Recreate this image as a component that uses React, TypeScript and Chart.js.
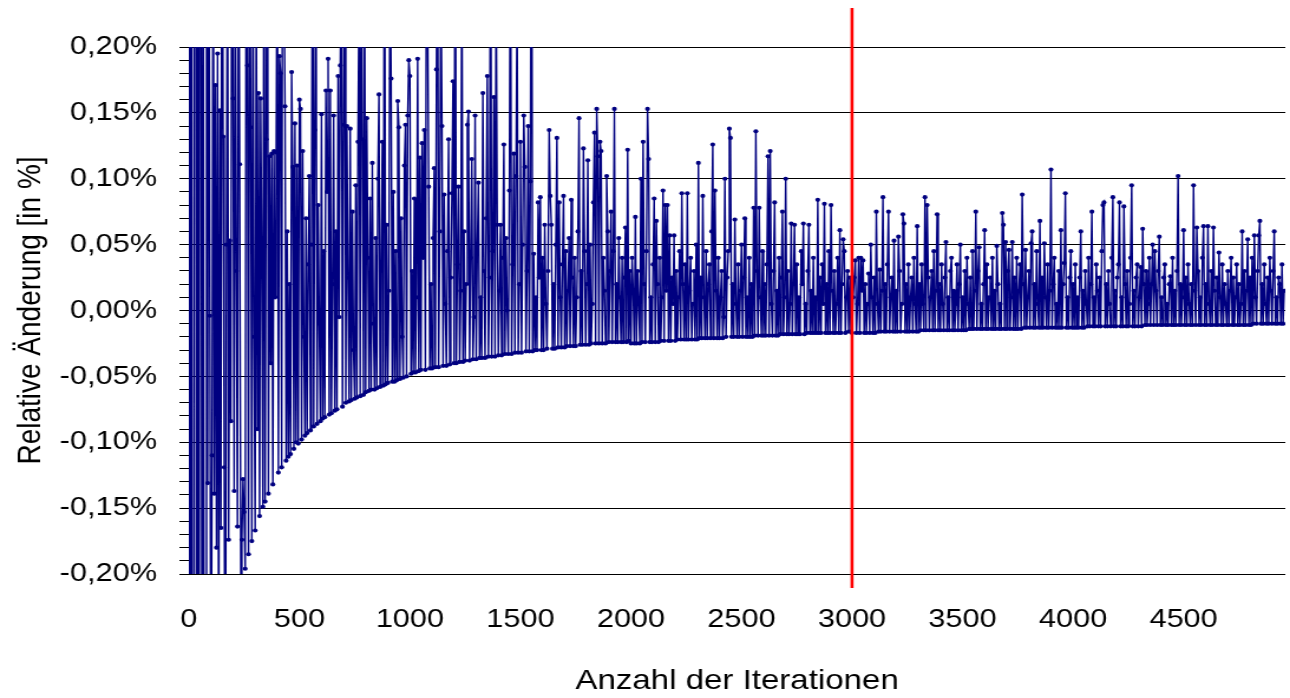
import { useEffect, useRef } from 'react';
import { Chart, registerables } from 'chart.js';

Chart.register(...registerables);

// ---- data (values in 0.001 % units, i.e. 200 = 0,20 %) ----
const ITERATION_STEP = 5; // iterations between stored points
const X_MAX = 4960;
const X_TICKS = [0, 500, 1000, 1500, 2000, 2500, 3000, 3500, 4000, 4500];
const Y_MIN = -200;
const Y_MAX = 200;
const Y_MINOR_STEP = 10;
const Y_MAJOR_STEP = 50;
const RED_LINE_AT = 3000;
const X_TITLE = 'Anzahl der Iterationen';
const Y_TITLE = 'Relative Änderung [in %]';

// iterations 0 - 995
const SEG_0 = [
  1800, -1500, 1200, -900, -1100, 700, 900, -600, 500, -800,
  650, 420, -480, 380, -520, -300, 350, -131, 420, -4,
  -350, -110, 380, -139, 171, -180, 195, -300, 152, -165,
  500, 132, -119, -400, 50, 330, -174, 53, -84, 450,
  161, -137, 300, 30, -164, 360, 111, -205, -174, -128,
  -153, -196, 420, 186, -185, 350, 139, -175, 300, -20,
  -167, 260, -90, 165, -156, 161, 40, -149, 380, -145,
  130, 450, -139, 117, -40, 119, -132, 121, 10, 120,
  320, -123, 193, 180, -119, 500, 270, 155, -114, 60,
  -111, 20, -109, 181, 109, -105, 142, -100, 110, -101,
  160, 153, -98, 121, -20, -95, 70, -93, 35, 102,
  -91, 50, 400, -88, 137, 300, -86, 80, -10, -84,
  149, -82, 45, -81, 167, 90, 191, -79, 167, -78,
  20, 148, -76, 60, -75, 178, -5, 186, 280, -73,
  141, 360, -70, 140, 25, -69, 138, -68, 75, -30,
  -67, 95, -66, 128, 240, -65, 330, 130, -64, 260,
  -62, 146, 40, -61, 85, -60, 112, -10, -60, 55,
  -59, 100, 164, -58, 30, 128, -57, 420, -56, 65,
  -55, 15, 290, 176, -54, 90, -54, 45, -53, 159,
  139, -52, 70, -20, -51, 110, 141, -50, 148, 190,
];

// iterations 1000 - 1995
const SEG_1 = [
  178, -48, 30, -47, 85, -47, 10, 191, -46, 116,
  -45, 127, 40, 137, -45, 300, 230, 94, -44, 20,
  -44, 55, 108, -43, 183, 350, -43, 60, 260, 140,
  -42, 88, 5, -42, 45, 130, -41, 25, 89, 174,
  -40, 420, -40, 35, 94, -39, 15, 280, -39, 60,
  -38, 20, 141, 151, -38, 40, 115, -37, -5, 148,
  -37, 50, 97, -36, 10, -36, 165, 30, -36, 70,
  178, -35, 25, 380, -35, 45, 162, -35, 260, 65,
  -34, 15, 65, -34, 40, 126, -33, 55, 0, -33,
  91, 330, -33, 35, 119, -32, 102, 240, -32, 20,
  128, -32, 50, 148, 109, -31, 30, 140, -31, 98,
  420, -31, 43, -30, 10, -30, 82, 25, 86, -30,
  40, -30, 65, 5, -29, 30, 137, 87, 65, -29,
  20, -29, 50, 131, -28, 82, 10, -28, 35, 87,
  -28, 45, -27, 15, 55, -27, 84, 25, -27, 40,
  -27, 10, 60, 146, -26, 30, -26, 123, 45, -26,
  20, 114, -26, 50, -25, 5, 82, 135, -25, 153,
  117, -25, 128, 121, -25, 40, 15, -25, 102, 60,
  -24, 30, 75, -24, 45, 153, -24, 20, -24, 55,
  10, -24, 40, -24, 25, 63, -24, 122, -23, 30,
];

// iterations 2000 - 2995
const SEG_2 = [
  -25, 40, 15, -25, 71, -25, 30, 5, -25, 100,
  -24, 128, 20, -24, 45, 153, 115, -24, 10, -24,
  35, 85, -24, 68, 20, -24, 40, -23, 10, 91,
  -23, 80, 15, 80, -23, 57, -23, 25, 5, 57,
  -23, 30, -22, 10, 45, -22, 89, 20, -22, 35,
  -22, 89, -22, 15, 40, -22, 5, 30, -22, 50,
  -22, 112, -21, 25, -21, 87, 10, -21, 45, -21,
  20, 35, -21, 60, 126, -21, 91, 15, -21, 40,
  -21, 10, 30, -21, -5, 100, -20, 25, 45, 138,
  131, -20, 20, -20, 69, 5, -20, 35, -20, 15,
  50, -20, 25, 70, -20, 10, -20, 40, -20, 20,
  -20, 78, -19, 136, 30, -19, 78, 10, -19, 45,
  -19, 20, -19, 35, 117, -19, 121, 5, -19, 30,
  82, -19, 15, -19, 40, -18, 25, 75, -18, 10,
  100, -18, 30, -18, 5, 66, -18, 20, 65, -18,
  35, -18, 10, -18, 45, 20, 66, -18, 5, -17,
  30, 65, -17, 15, -17, 40, -17, 10, -17, 84,
  -17, 25, -17, 35, 5, 81, -17, 20, -17, 45,
  -17, 80, 15, -17, 30, -17, 5, 40, -17, 61,
  -17, 20, 54, 45, -17, 10, 30, -16, 25, -16,
];

// iterations 3000 - 3995
const SEG_3 = [
  -17, 10, 25, 38, -17, 5, 40, -17, 40, 15,
  38, -17, 20, -17, 5, 28, -17, 50, 10, -17,
  25, -17, 75, 5, -16, 31, -16, 15, 86, -16,
  20, -16, 35, 75, -16, 10, 25, -16, 53, -16,
  15, -16, 56, 30, -16, 5, 73, 66, -16, 20,
  -16, 35, -16, 10, 25, -16, 40, 5, -16, 64,
  -16, 20, -15, 35, 5, -15, 86, -15, 80, 25,
  -15, 10, 30, -15, 45, -15, 15, 73, -15, 20,
  -15, 35, 5, -15, 25, 52, -15, 10, -15, 30,
  40, -15, 15, -15, 5, 35, -15, 20, 50, -15,
  10, -15, 30, -15, 40, 5, -14, 25, -14, 45,
  -14, 15, 75, -14, 30, 48, -14, 5, -14, 20,
  61, -14, 35, -14, 10, 25, -14, 40, -14, 15,
  -14, 49, 20, -14, 5, -14, 74, 65, -14, 52,
  -14, 30, 46, -14, 10, 52, -14, 25, -14, 40,
  -14, 15, 35, -14, 88, 20, -13, 46, -13, 10,
  30, -13, 51, 60, -13, 20, -13, 45, 5, -13,
  68, -13, 25, -13, 51, 10, -13, 35, -13, 15,
  107, -13, 20, 40, -13, 5, -13, 30, -13, 61,
  -13, 20, 36, 89, -13, 10, -13, 25, 45, -13,
];

// iterations 4000 - 4955
const SEG_4 = [
  20, -13, 35, -13, 10, -13, 25, 60, -13, 15,
  -13, 30, 5, -12, 40, -12, 20, 75, -12, 10,
  -12, 35, 15, -12, 25, -12, 45, 80, 82, -12,
  20, -12, 30, 5, -12, 40, 86, -12, 15, -12,
  25, 35, 82, -12, 10, -12, 79, 20, -12, 30,
  -12, 5, 40, 95, -12, 15, -12, 25, 35, -12,
  10, 33, -12, 62, 20, -11, 30, -11, 5, 40,
  -11, 20, 50, -11, 45, 15, -11, 30, 56, -11,
  10, -11, 25, 35, -11, 5, -11, 20, 26, -11,
  40, -11, 15, -11, 30, 102, -11, 20, -11, 10,
  61, -11, 25, -11, 35, 5, -11, 20, -11, 95,
  15, -11, 63, 30, -11, 10, -11, 40, 64, -11,
  20, -11, 64, 5, -11, 30, -11, 63, 15, -11,
  25, -11, 44, 10, -11, 35, -11, 20, 5, -11,
  30, -11, 15, 40, -11, 25, -11, 10, 35, -11,
  20, -11, 5, 60, -11, 30, -11, 15, 54, -11,
  25, -11, 40, -10, 57, 10, -10, 30, 57, 68,
  -10, 20, -10, 35, 5, -10, 25, -10, 40, 15,
  -10, 30, 60, -10, 10, -10, 25, 20, -10, 35,
  -10, 15,
];

// ---- presentation ----
const PAGE_W = 1290;
const PAGE_H = 698;
const CANVAS_W = 1093; // drawn narrower, then stretched horizontally like the reference
const STRETCH = PAGE_W / CANVAS_W;
const NAVY = '#000080';
const FONT = "'Liberation Sans', Arial, sans-serif";

const fmtPercent = (v: number) => (v / 1000).toFixed(2).replace('.', ',') + '%';

export default function App() {
  const ref = useRef<HTMLCanvasElement | null>(null);

  useEffect(() => {
    const canvas = ref.current;
    if (!canvas) return;
    const values = [...SEG_0, ...SEG_1, ...SEG_2, ...SEG_3, ...SEG_4];
    const points = values.map((v, k) => ({ x: k * ITERATION_STEP, y: v }));

    const redLine = {
      id: 'redLine',
      afterDatasetsDraw(chart: any) {
        const x = chart.scales.x.getPixelForValue(RED_LINE_AT);
        const ctx = chart.ctx;
        ctx.save();
        ctx.strokeStyle = '#ff0000';
        ctx.lineWidth = 2.6;
        ctx.beginPath();
        ctx.moveTo(x, 8);
        ctx.lineTo(x, 588);
        ctx.stroke();
        ctx.restore();
      },
    };

    const chart = new Chart(canvas, {
      type: 'line',
      data: {
        datasets: [
          {
            data: points,
            borderColor: NAVY,
            backgroundColor: NAVY,
            borderWidth: 1.4,
            pointRadius: 2.1,
            pointStyle: 'circle',
            pointBackgroundColor: NAVY,
            pointBorderWidth: 0,
            tension: 0,
            fill: false,
          },
        ],
      },
      options: {
        animation: false,
        responsive: false,
        devicePixelRatio: 1,
        events: [],
        layout: { padding: { top: 47, right: 1, bottom: 0, left: 0 } },
        plugins: {
          legend: { display: false },
          tooltip: { enabled: false },
        },
        scales: {
          x: {
            type: 'linear',
            min: 0,
            max: X_MAX,
            grid: { display: false },
            border: { display: false },
            afterBuildTicks: (s: any) => {
              s.ticks = X_TICKS.map((v) => ({ value: v }));
            },
            ticks: {
              autoSkip: false,
              maxRotation: 0,
              padding: 22,
              color: '#000',
              font: { family: FONT, size: 26 },
              callback: (v: any) => String(v),
            },
            title: {
              display: true,
              text: X_TITLE,
              color: '#000',
              font: { family: FONT, size: 28 },
              padding: { top: 0, bottom: 0 },
            },
            afterFit: (s: any) => {
              s.height = 124;
            },
          },
          y: {
            min: Y_MIN,
            max: Y_MAX,
            grid: {
              color: (ctx: any) =>
                ctx.tick && Math.round(ctx.tick.value) % Y_MAJOR_STEP === 0 ? '#000' : 'rgba(0,0,0,0)',
              tickColor: '#000',
              tickLength: 8,
              lineWidth: 1,
              drawTicks: true,
            },
            border: { display: true, color: '#000', width: 1 },
            ticks: {
              stepSize: Y_MINOR_STEP,
              autoSkip: false,
              padding: 19,
              color: '#000',
              font: { family: FONT, size: 26 },
              callback: (v: any) => (Math.round(v) % Y_MAJOR_STEP === 0 ? fmtPercent(v) : ''),
            },
            title: {
              display: true,
              text: Y_TITLE,
              color: '#000',
              font: { family: FONT, size: 28 },
              padding: { top: 9, bottom: 0 },
            },
            afterFit: (s: any) => {
              s.width = 160;
            },
          },
        },
      },
      plugins: [redLine],
    } as any);

    return () => chart.destroy();
  }, []);

  return (
    <div
      style={{
        position: 'absolute',
        left: 0,
        top: 0,
        width: PAGE_W,
        height: PAGE_H,
        overflow: 'hidden',
        background: '#fff',
      }}
    >
      <canvas
        ref={ref}
        width={CANVAS_W}
        height={PAGE_H}
        style={{
          display: 'block',
          width: CANVAS_W + 'px',
          height: PAGE_H + 'px',
          transform: `scaleX(${STRETCH})`,
          transformOrigin: '0 0',
        }}
      />
    </div>
  );
}
